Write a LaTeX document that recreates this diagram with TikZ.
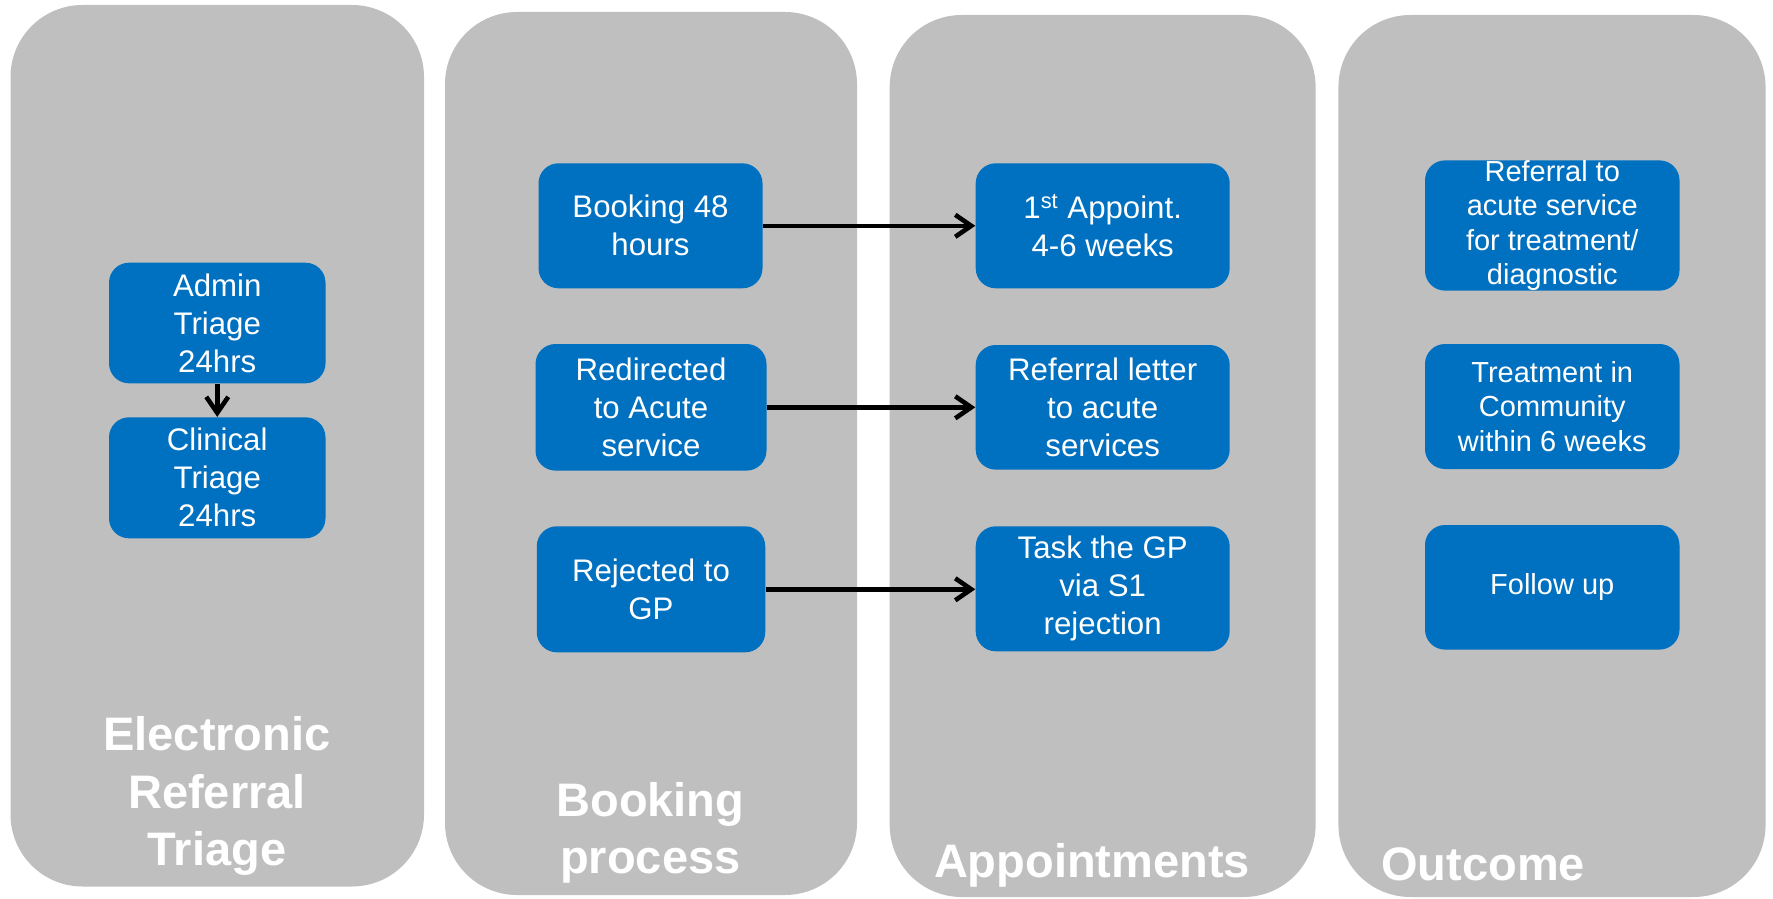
\documentclass[tikz,border=0pt]{standalone}
\usepackage{fontspec}
\setmainfont{Liberation Sans}
\usetikzlibrary{arrows.meta}
\definecolor{panelgray}{RGB}{191,191,191}
\definecolor{boxblue}{RGB}{0,112,192}
\tikzset{
  panel/.style={fill=panelgray, draw=none, rounded corners=36pt, inner sep=0pt},
  bluebox/.style={fill=boxblue, draw=none, rounded corners=10pt, inner sep=0pt,
    text=white, align=center, font=\fontsize{15.6pt}{19pt}\selectfont},
  outbox/.style={bluebox, font=\fontsize{14.5pt}{17.2pt}\selectfont},
  title/.style={text=white, align=center, inner sep=0pt,
    font=\fontsize{23.5pt}{28.75pt}\selectfont\bfseries},
  arr/.style={line width=2.3pt, -{Straight Barb[length=8pt,width=11pt]}}
}
\begin{document}
\begin{tikzpicture}[x=0.5pt,y=-0.5pt]
\useasboundingbox (0,0) rectangle (1773,899);
% panels
\node[panel, minimum width=206.75pt, minimum height=440.75pt] (p1) at (217.25,445.75) {};
\node[panel, minimum width=206pt, minimum height=441.5pt] (p2) at (651,453.5) {};
\node[panel, minimum width=212.95pt, minimum height=441pt] (p3) at (1102.65,456) {};
\node[panel, minimum width=213.55pt, minimum height=441pt] (p4) at (1552,456) {};
% column 1
\node[bluebox, minimum width=108.25pt, minimum height=60.3pt] (admin) at (217.25,323) {Admin\\Triage\\24hrs};
\node[bluebox, minimum width=108.25pt, minimum height=60.5pt] (clinical) at (217.25,477.8) {Clinical\\Triage\\24hrs};
% column 2
\node[bluebox, minimum width=112pt, minimum height=62.5pt] (booking) at (650.5,225.8) {Booking 48\\hours};
\node[bluebox, minimum width=115.5pt, minimum height=63.3pt] (redirected) at (651,407.3) {Redirected\\to Acute\\service};
\node[bluebox, minimum width=114.25pt, minimum height=63pt] (rejected) at (651,589.3) {Rejected to\\GP};
% column 3
\node[bluebox, minimum width=127pt, minimum height=62.5pt] (appoint) at (1102.7,225.8) {1\textsuperscript{st} Appoint.\\4-6 weeks};
\node[bluebox, minimum width=127pt, minimum height=62.3pt] (letter) at (1102.7,407.3) {Referral letter\\to acute\\services};
\node[bluebox, minimum width=127pt, minimum height=62.5pt] (task) at (1102.7,588.8) {Task the GP\\via S1\\rejection};
% column 4
\node[outbox, minimum width=127.25pt, minimum height=62.2pt] (refacute) at (1552.25,225.5) {Referral to\\acute service\\for treatment/\\diagnostic};
\node[outbox, minimum width=127.25pt, minimum height=62.5pt] (community) at (1552.25,406.5) {Treatment in\\Community\\within 6 weeks};
\node[outbox, minimum width=127.25pt, minimum height=62.3pt] (followup) at (1552.25,587.3) {Follow up};
% titles
\node[title] (t1) at (217,796) {Electronic\\Referral\\Triage};
\node[title] (t2) at (650.4,833) {Booking\\process};
\node[title, anchor=base] (t3) at (1092,877.3) {Appointments};
\node[title, anchor=base west] (t4) at (1381,880) {Outcome};
% connectors
\draw[arr] (admin.south) -- (clinical.north);
\draw[arr] (booking.east) -- (appoint.west);
\draw[arr] (redirected.east) -- (redirected.east -| letter.west);
\draw[arr] (rejected.east) -- (rejected.east -| task.west);
\end{tikzpicture}
\end{document}
